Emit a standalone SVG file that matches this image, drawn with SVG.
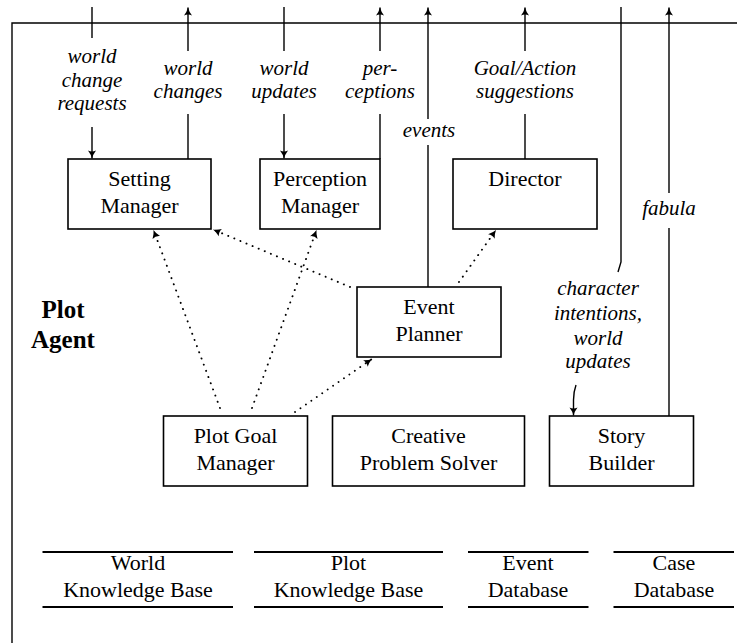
<svg xmlns="http://www.w3.org/2000/svg" width="737" height="643" viewBox="0 0 737 643" font-family="'Liberation Serif', serif">
<style>
.box{fill:#fff;stroke:#000;stroke-width:1.6}
.nt{font-size:22px;text-anchor:middle;fill:#000}
.lb{font-size:21px;font-style:italic;text-anchor:middle;fill:#000}
.ln{fill:none;stroke:#000;stroke-width:1.4}
.dt{fill:none;stroke:#000;stroke-width:1.9;stroke-dasharray:0.1 6.5;stroke-linecap:round}
.db{stroke:#000;stroke-width:2.2}
</style>
<defs>
<marker id="ah" markerUnits="userSpaceOnUse" viewBox="-10 -5 11 10" refX="0" refY="0" markerWidth="11" markerHeight="10" orient="auto">
<path d="M0,0 Q-4,-1 -8,-4 Q-6,0 -8,4 Q-4,1 0,0 Z" fill="#000"/>
</marker>
</defs>
<g id="frame">
<path class="ln" d="M12,643 V23 H737" stroke-width="1.6"/>
</g>
<g id="connectors">
<path class="ln" d="M92,7 V38 M92,127 V158.5" marker-end="url(#ah)"/>
<path class="ln" d="M188,159 V114 M188,51 V7.5" marker-end="url(#ah)"/>
<path class="ln" d="M284,7 V51 M284,114 V158.5" marker-end="url(#ah)"/>
<path class="ln" d="M380,159 V114 M380,51 V7.5" marker-end="url(#ah)"/>
<path class="ln" d="M428,287 V145 M428,119 V7.5" marker-end="url(#ah)"/>
<path class="ln" d="M525,159 V114 M525,51 V7.5" marker-end="url(#ah)"/>
<path class="ln" d="M621,7 V262 L618,272"/>
<path class="ln" d="M576,385 Q573.5,392 573.5,400 V415.5" marker-end="url(#ah)"/>
<path class="ln" d="M669,416 V228 M669,193 V7.5" marker-end="url(#ah)"/>
<path class="dt" d="M350,287 L213,229.5" marker-end="url(#ah)"/>
<path class="dt" d="M220,408 L153.5,230" marker-end="url(#ah)"/>
<path class="dt" d="M252,408 L316.5,230" marker-end="url(#ah)"/>
<path class="dt" d="M295,412 L372,359" marker-end="url(#ah)"/>
<path class="dt" d="M459,282 L496,230" marker-end="url(#ah)"/>
</g>
<g id="labels">
<text class="lb" x="92" y="63">world</text>
<text class="lb" x="92" y="87">change</text>
<text class="lb" x="92" y="110">requests</text>
<text class="lb" x="188" y="75">world</text>
<text class="lb" x="188" y="98">changes</text>
<text class="lb" x="284" y="75">world</text>
<text class="lb" x="284" y="98">updates</text>
<text class="lb" x="380" y="75">per-</text>
<text class="lb" x="380" y="98">ceptions</text>
<text class="lb" x="429" y="137">events</text>
<text class="lb" x="525" y="75">Goal/Action</text>
<text class="lb" x="525" y="98">suggestions</text>
<text class="lb" x="598" y="295">character</text>
<text class="lb" x="598" y="320">intentions,</text>
<text class="lb" x="598" y="345">world</text>
<text class="lb" x="598" y="368">updates</text>
<text class="lb" x="669" y="215">fabula</text>
</g>
<g id="plot-agent" font-size="25" font-weight="bold" text-anchor="middle">
<text x="63" y="318">Plot</text>
<text x="63" y="348">Agent</text>
</g>
<g id="setting-manager">
<rect class="box" x="68" y="159" width="143" height="70"/>
<text class="nt" x="139.5" y="186">Setting</text>
<text class="nt" x="139.5" y="213">Manager</text>
</g>
<g id="perception-manager">
<rect class="box" x="260" y="159" width="120" height="70"/>
<text class="nt" x="320" y="186">Perception</text>
<text class="nt" x="320" y="213">Manager</text>
</g>
<g id="director">
<rect class="box" x="453" y="159" width="144" height="70"/>
<text class="nt" x="525" y="186">Director</text>
</g>
<g id="event-planner">
<rect class="box" x="357" y="287" width="144" height="70"/>
<text class="nt" x="429" y="314">Event</text>
<text class="nt" x="429" y="341">Planner</text>
</g>
<g id="plot-goal-manager">
<rect class="box" x="163.5" y="416" width="144" height="70"/>
<text class="nt" x="235.5" y="443">Plot Goal</text>
<text class="nt" x="235.5" y="470">Manager</text>
</g>
<g id="creative-problem-solver">
<rect class="box" x="332.5" y="416" width="192" height="70"/>
<text class="nt" x="428.5" y="443">Creative</text>
<text class="nt" x="428.5" y="470">Problem Solver</text>
</g>
<g id="story-builder">
<rect class="box" x="549.5" y="416" width="144" height="70"/>
<text class="nt" x="621.5" y="443">Story</text>
<text class="nt" x="621.5" y="470">Builder</text>
</g>
<g id="world-kb">
<line class="db" x1="42.5" y1="552" x2="233" y2="552"/>
<line class="db" x1="42.5" y1="607" x2="233" y2="607"/>
<text class="nt" x="138" y="570">World</text>
<text class="nt" x="138" y="597">Knowledge Base</text>
</g>
<g id="plot-kb">
<line class="db" x1="254" y1="552" x2="443" y2="552"/>
<line class="db" x1="254" y1="607" x2="443" y2="607"/>
<text class="nt" x="348.5" y="570">Plot</text>
<text class="nt" x="348.5" y="597">Knowledge Base</text>
</g>
<g id="event-db">
<line class="db" x1="468" y1="552" x2="588.5" y2="552"/>
<line class="db" x1="468" y1="607" x2="588.5" y2="607"/>
<text class="nt" x="528" y="570">Event</text>
<text class="nt" x="528" y="597">Database</text>
</g>
<g id="case-db">
<line class="db" x1="613.5" y1="552" x2="734" y2="552"/>
<line class="db" x1="613.5" y1="607" x2="734" y2="607"/>
<text class="nt" x="674" y="570">Case</text>
<text class="nt" x="674" y="597">Database</text>
</g>
</svg>
